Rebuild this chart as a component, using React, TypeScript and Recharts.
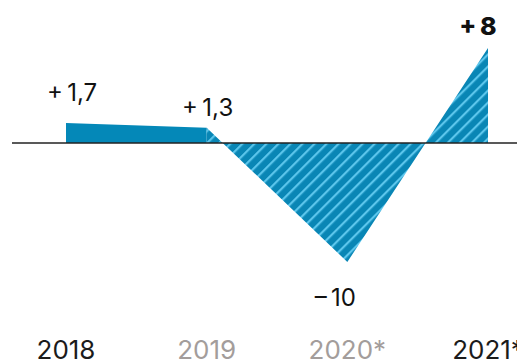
import { Area, ComposedChart, LabelList, Line, ReferenceLine, XAxis, YAxis } from "recharts"

const years = ["2018", "2019", "2020*", "2021*"]
const actual = [1.7, 1.3, null, null]
const forecast = [null, 1.3, -10, 8]
const values = [1.7, 1.3, -10, 8]
const valueLabels = ["+\u20091,7", "+\u20091,3", "\u2013\u200910", "+\u20098"]
const yearColors = ["#1b1b1b", "#a39d9b", "#a39d9b", "#1b1b1b"]

// label placement relative to each point
const labelOffsets = [
  { dx: 6, dy: -22, bold: false },
  { dx: 1, dy: -12, bold: false },
  { dx: -12, dy: 44, bold: false },
  { dx: -10, dy: -13, bold: true },
]

const data = years.map((year, i) => ({
  year,
  actual: actual[i],
  forecast: forecast[i],
  value: values[i],
}))

const font = "Inter, 'Noto Sans', sans-serif"

const YearTick = (props: any) => {
  const { x, payload, index } = props
  return (
    <text x={x} y={359} textAnchor="middle" fontSize={26} fontFamily={font} fill={yearColors[index]}>
      {payload.value}
    </text>
  )
}

const ValueLabel = (props: any) => {
  const { x, y, index } = props
  const o = labelOffsets[index]
  return (
    <text
      x={x + o.dx}
      y={y + o.dy}
      textAnchor="middle"
      fontSize={o.bold ? 25 : 24}
      fontWeight={o.bold ? 800 : 400}
      fontFamily={font}
      fill="#111"
    >
      {valueLabels[index]}
    </text>
  )
}

export default function App() {
  return (
    <div style={{ position: "absolute", left: 0, top: 0, background: "#fff" }}>
      <ComposedChart width={517} height={364} data={data} margin={{ top: 48, right: 0, bottom: 0, left: 12 }}>
        <defs>
          <pattern id="hatch" width="8.5" height="8.5" patternUnits="userSpaceOnUse" patternTransform="rotate(45)">
            <rect width="8.5" height="8.5" fill="#0986b5" />
            <rect width="2.2" height="8.5" fill="#5cc6ec" />
          </pattern>
        </defs>
        <XAxis
          dataKey="year"
          height={102}
          axisLine={false}
          tickLine={false}
          padding={{ left: 54, right: 29 }}
          tick={YearTick}
          interval={0}
        />
        <YAxis hide type="number" domain={[-10, 8]} />
        <Area
          dataKey="actual"
          type="linear"
          baseValue={0}
          stroke="none"
          fill="#0488b8"
          fillOpacity={1}
          isAnimationActive={false}
        />
        <Area
          dataKey="forecast"
          type="linear"
          baseValue={0}
          stroke="none"
          fill="url(#hatch)"
          fillOpacity={1}
          isAnimationActive={false}
        />
        <ReferenceLine y={0} stroke="#222" strokeWidth={1.5} />
        <Line dataKey="value" stroke="none" dot={false} activeDot={false} isAnimationActive={false}>
          <LabelList dataKey="value" content={ValueLabel} />
        </Line>
      </ComposedChart>
    </div>
  )
}
